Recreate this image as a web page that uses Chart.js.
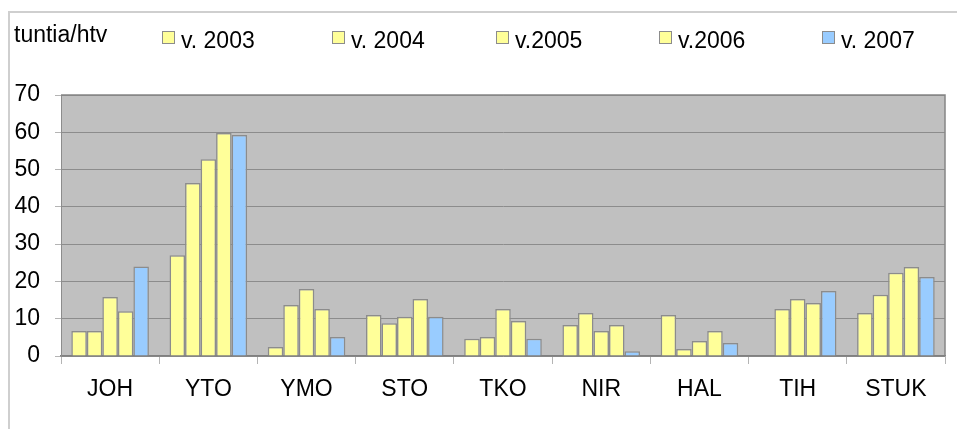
<!DOCTYPE html>
<html>
<head>
<meta charset="utf-8">
<script src="https://cdn.jsdelivr.net/npm/chart.js@4"></script>
<style>
  body { margin: 0; background: #fff; font-family: "Liberation Sans", Arial, sans-serif; }
  #wrap { position: relative; width: 957px; height: 429px; overflow: hidden; }
  #frame { position: absolute; left: 8px; top: 11px; width: 1000px; height: 500px;
           border-left: 2px solid #cfcfcf; border-top: 2px solid #cfcfcf; }
  .txt { position: absolute; font-size: 23px; color: #000; white-space: nowrap; line-height: 1; }
  .box { position: absolute; width: 11px; height: 11px; border: 1px solid #8c8c8c; }
</style>
</head>
<body>
<div id="wrap">
  <canvas id="chart" width="957" height="429"></canvas>
  <div id="frame"></div>
  <div class="txt" style="left:14px; top:23px;">tuntia/htv</div>
  <div id="legend"></div>
</div>
<script>
// Data
const categories = ["JOH", "YTO", "YMO", "STO", "TKO", "NIR", "HAL", "TIH", "STUK"];
const seriesLabels = ["v. 2003", "v. 2004", "v.2005", "v.2006", "v. 2007"];
const v2003 = [6.7, 27, 2.4, 11, 4.6, 8.3, 11, null, 11.5];
const v2004 = [6.7, 46.4, 13.7, 8.8, 5.1, 11.5, 1.9, 12.6, 16.4];
const v2005 = [15.8, 52.8, 18, 10.5, 12.6, 6.7, 4, 15.3, 22.3];
const v2006 = [12, 59.8, 12.6, 15.3, 9.4, 8.3, 6.7, 14.2, 23.9];
const v2007 = [24, 59.3, 5.1, 10.5, 4.6, 1.3, 3.5, 17.4, 21.2];
const yMin = 0, yMax = 70, yStep = 10;

const colors = ["#ffff99", "#ffff99", "#ffff99", "#ffff99", "#99ccff"];
const legendX = [162, 332, 496, 659, 822];

// legend in html
const legend = document.getElementById("legend");
seriesLabels.forEach((lab, i) => {
  const b = document.createElement("div");
  b.className = "box";
  b.style.left = legendX[i] + "px";
  b.style.top = "31px";
  b.style.background = colors[i];
  legend.appendChild(b);
  const t = document.createElement("div");
  t.className = "txt";
  t.style.left = (legendX[i] + 19) + "px";
  t.style.top = "29px";
  t.textContent = lab;
  legend.appendChild(t);
});

const plotBg = {
  id: "plotBg",
  beforeDraw(chart) {
    const a = chart.chartArea, c = chart.ctx;
    c.save();
    c.fillStyle = "#c0c0c0";
    c.fillRect(a.left, a.top, a.right - a.left, a.bottom - a.top);
    c.restore();
  },
  afterDraw(chart) {
    const a = chart.chartArea, c = chart.ctx;
    c.save();
    c.strokeStyle = "#858585";
    c.lineWidth = 1.5;
    c.beginPath();
    c.moveTo(a.left, a.top);
    c.lineTo(a.right, a.top);
    c.lineTo(a.right, a.bottom);
    c.stroke();
    c.restore();
  }
};

const font = { family: "'Liberation Sans', Arial, sans-serif", size: 23 };
const all = [v2003, v2004, v2005, v2006, v2007];

new Chart(document.getElementById("chart"), {
  type: "bar",
  data: {
    labels: categories,
    datasets: all.map((d, i) => ({
      label: seriesLabels[i],
      data: d,
      backgroundColor: colors[i],
      borderColor: "#8c8c8c",
      borderWidth: 1.5,
      categoryPercentage: 0.79,
      barPercentage: 1
    }))
  },
  options: {
    responsive: false,
    animation: false,
    layout: { padding: { top: 95, right: 12, left: 0, bottom: 0 } },
    plugins: { legend: { display: false }, tooltip: { enabled: false } },
    scales: {
      x: {
        afterFit(s) { s.height = 73; },
        grid: { drawOnChartArea: false, offset: true, tickLength: 8, tickColor: "#b4b4b4" },
        border: { color: "#808080", width: 1.5 },
        ticks: { color: "#000", font: font, padding: 12 }
      },
      y: {
        min: yMin, max: yMax,
        afterFit(s) { s.width = 61; },
        grid: { color: "#8c8c8c", tickLength: 6, tickColor: "#b4b4b4" },
        border: { color: "#8c8c8c" },
        ticks: { stepSize: yStep, color: "#000", font: font, padding: 15 }
      }
    }
  },
  plugins: [plotBg]
});
</script>
</body>
</html>
